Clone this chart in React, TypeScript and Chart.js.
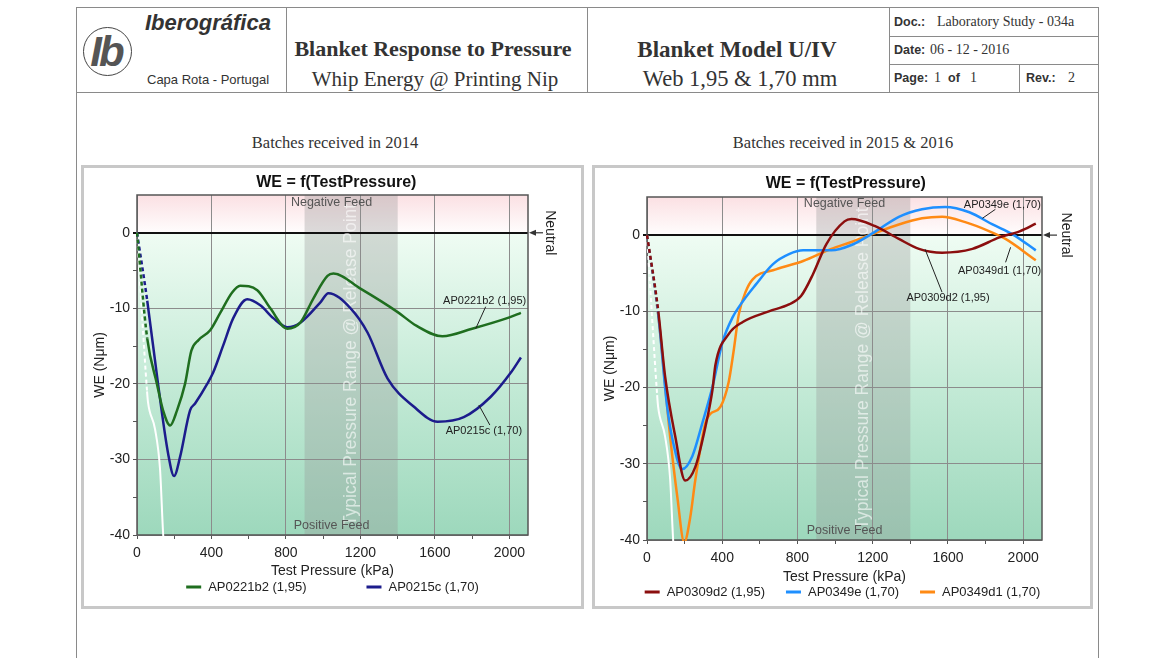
import React, { useEffect, useRef } from "react";
import { Chart, registerables } from "chart.js";

Chart.register(...registerables);

const SANS = "'Liberation Sans', Arial, sans-serif";
const SERIF = "'Liberation Serif', 'Times New Roman', serif";

// ---------------- Data: batches received in 2014 ----------------
const P_AP0221b2 = [0, 55, 107, 140, 178, 215, 258, 292, 330, 393, 447, 511, 554, 646, 716, 807, 877, 947, 1023, 1055, 1200, 1400, 1500, 1640, 1800, 2000, 2062];
const WE_AP0221b2 = [0, -14, -20, -23.5, -25.5, -23.5, -20, -15.6, -14.2, -12.9, -10.6, -7.9, -7.0, -7.6, -10, -12.7, -11.9, -8.7, -5.7, -5.4, -7.4, -10.5, -12.3, -13.7, -12.7, -11.2, -10.6];

const P_AP0215c = [0, 55, 113, 167, 199, 231, 285, 312, 377, 409, 463, 517, 592, 662, 732, 807, 877, 985, 1028, 1147, 1238, 1346, 1486, 1615, 1755, 1900, 2008, 2062];
const WE_AP0215c = [0, -9, -20, -29.2, -32.2, -29.7, -23.5, -22.6, -20, -18.5, -14.9, -11.3, -8.8, -9.6, -11.3, -12.5, -11.9, -9.2, -8.0, -10, -13.2, -19.3, -23, -25, -24.4, -21.7, -18.5, -16.5];

const P_REF_2014 = [0, 54, 59, 97, 124, 140, 150];
const WE_REF_2014 = [0, -21, -22.4, -26, -31.4, -39.7, -43];

// ---------------- Data: batches received in 2015 & 2016 ----------------
const P_AP0309d2 = [0, 60, 96, 150, 203, 257, 311, 348, 364, 434, 509, 648, 755, 819, 883, 953, 1050, 1087, 1210, 1339, 1446, 1569, 1730, 1874, 1981, 2067];
const WE_AP0309d2 = [0, -10, -18.5, -26.4, -32.2, -30.4, -25.1, -20.3, -17, -13, -11.4, -10, -9.1, -8, -5.1, -1.2, 1.8, 2.1, 1.2, -0.5, -1.8, -2.3, -1.8, -0.3, 0.5, 1.5];

const P_AP0349e = [0, 60, 107, 139, 187, 241, 295, 348, 402, 455, 509, 578, 670, 755, 830, 980, 1087, 1210, 1339, 1462, 1585, 1714, 1837, 1944, 2067];
const WE_AP0349e = [0, -10.5, -22.5, -27.2, -30.7, -29, -24.6, -19.9, -14, -10.8, -8.7, -6.5, -3.8, -2.5, -2, -2, -1.3, 0.4, 2.4, 3.4, 3.7, 3.0, 1.4, 0.1, -2];

const P_AP0349d1 = [0, 60, 123, 161, 198, 230, 257, 311, 335, 391, 434, 460, 488, 525, 562, 685, 830, 980, 1087, 1194, 1339, 1462, 1569, 1692, 1821, 1906, 2067];
const WE_AP0349d1 = [0, -10.5, -26.4, -34.3, -40.3, -37, -32.1, -24.6, -23.5, -22.5, -19.3, -15.3, -10.4, -7.4, -5.8, -4.5, -3.4, -1.8, -0.9, 0.1, 1.4, 2.2, 2.4, 1.7, 0.5, -0.5, -3.3];

const P_REF_2015 = [0, 54, 59, 96, 123, 139, 148];
const WE_REF_2015 = [0, -21, -22.5, -26.4, -32, -40, -43];

// ---------------- Axes ----------------
const X_LABEL_TICKS = [0, 400, 800, 1200, 1600, 2000];
const Y_LABEL_TICKS = [0, -10, -20, -30, -40];
const X_MIN = 0, X_MAX = 2100, Y_MIN = -40, Y_MAX = 5;
const PRESSURE_BAND = [900, 1400];

type Series = { label: string; xs: number[]; ys: number[]; color: string; width: number; legend: boolean; dotEnd: number };
type Ann = { ds: number; x: number; y: number; lx: number; ly: number; tx: number; ty: number };
type Spec = {
  w: number; h: number;
  padLeft: number; padBottom: number; yAxisW: number; rightW: number; xAxisH: number;
  titleTop: number; titleBottom: number;
  legendY: number; legendGap: number;
  feedX: number; feedTop: number; feedBottom: number;
  neutralOff: number;
  series: Series[];
  anns: Ann[];
};

const transparent = "rgba(0,0,0,0)";

const decorPlugin: any = {
  id: "decor",
  beforeDraw(chart: any) {
    const { ctx, chartArea: a, scales } = chart;
    const x = scales.x, y = scales.y;
    const y0 = y.getPixelForValue(0);
    ctx.save();
    let g = ctx.createLinearGradient(0, a.top, 0, y0);
    g.addColorStop(0, "#fbe0e3");
    g.addColorStop(1, "#fffdfd");
    ctx.fillStyle = g;
    ctx.fillRect(a.left, a.top, a.right - a.left, y0 - a.top);
    g = ctx.createLinearGradient(0, y0, 0, a.bottom);
    g.addColorStop(0, "#effcf3");
    g.addColorStop(0.5, "#c3ead6");
    g.addColorStop(1, "#9dd8bc");
    ctx.fillStyle = g;
    ctx.fillRect(a.left, y0, a.right - a.left, a.bottom - y0);
    const b1 = x.getPixelForValue(PRESSURE_BAND[0]);
    const b2 = x.getPixelForValue(PRESSURE_BAND[1]);
    ctx.fillStyle = "rgba(150,150,150,0.33)";
    ctx.fillRect(b1, a.top, b2 - b1, a.bottom - a.top);
    ctx.restore();
  },
  beforeDatasetsDraw(chart: any, _a: any, o: any) {
    const { ctx, chartArea: a, scales } = chart;
    const x = scales.x;
    ctx.save();
    ctx.beginPath();
    ctx.rect(a.left, a.top, a.right - a.left, a.bottom - a.top);
    ctx.clip();
    ctx.translate(x.getPixelForValue(1150), (a.top + a.bottom) / 2);
    ctx.rotate(-Math.PI / 2);
    ctx.font = `17.5px ${SANS}`;
    ctx.fillStyle = "rgba(255,255,255,0.6)";
    ctx.textAlign = "center";
    ctx.textBaseline = "middle";
    ctx.fillText("Typical Pressure Range @ Release Point", 0, 0);
    ctx.restore();

    ctx.save();
    ctx.font = `12.5px ${SANS}`;
    ctx.fillStyle = "#555";
    ctx.textAlign = "center";
    ctx.textBaseline = "middle";
    const fx = x.getPixelForValue(o.feedX);
    ctx.fillText("Negative Feed", fx, a.top + o.feedTop);
    ctx.fillText("Positive Feed", fx, a.bottom - o.feedBottom);
    ctx.strokeStyle = "#555";
    ctx.lineWidth = 1.5;
    ctx.strokeRect(a.left, a.top, a.right - a.left, a.bottom - a.top);
    ctx.restore();
  },
  afterDatasetsDraw(chart: any, _a: any, o: any) {
    const { ctx, scales } = chart;
    ctx.save();
    ctx.font = `11px ${SANS}`;
    ctx.fillStyle = "#222";
    ctx.strokeStyle = "#222";
    ctx.lineWidth = 1;
    ctx.textAlign = "center";
    ctx.textBaseline = "middle";
    (o.anns || []).forEach((an: Ann) => {
      const px = scales.x.getPixelForValue(an.x);
      const py = scales.y.getPixelForValue(an.y);
      ctx.beginPath();
      ctx.moveTo(px, py);
      ctx.lineTo(px + an.lx, py + an.ly);
      ctx.stroke();
      ctx.fillText(chart.data.datasets[an.ds].label, px + an.tx, py + an.ty);
    });
    ctx.restore();
  },
  afterDraw(chart: any, _a: any, o: any) {
    const { ctx, chartArea: a, scales } = chart;
    const y0 = scales.y.getPixelForValue(0);
    ctx.save();
    ctx.strokeStyle = "#333";
    ctx.fillStyle = "#333";
    ctx.lineWidth = 1.2;
    ctx.beginPath();
    ctx.moveTo(a.right + 15, y0);
    ctx.lineTo(a.right + 4, y0);
    ctx.stroke();
    ctx.beginPath();
    ctx.moveTo(a.right + 1, y0);
    ctx.lineTo(a.right + 8, y0 - 3);
    ctx.lineTo(a.right + 8, y0 + 3);
    ctx.closePath();
    ctx.fill();
    ctx.translate(a.right + o.neutralOff, y0);
    ctx.rotate(Math.PI / 2);
    ctx.font = `14px ${SANS}`;
    ctx.fillStyle = "#222";
    ctx.textAlign = "center";
    ctx.textBaseline = "middle";
    ctx.fillText("Neutral", 0, 0);
    ctx.restore();

    // Legend
    ctx.save();
    ctx.font = `13px ${SANS}`;
    const items = chart.data.datasets.filter((d: any) => !d.hideInLegend);
    const sw = 15, gap = 7;
    const widths = items.map((d: any) => sw + gap + ctx.measureText(d.label).width);
    const total = widths.reduce((s: number, v: number) => s + v, 0) + o.legendGap * (items.length - 1);
    let lx = chart.width / 2 - total / 2;
    ctx.textAlign = "left";
    ctx.textBaseline = "middle";
    items.forEach((d: any, i: number) => {
      ctx.fillStyle = d.borderColor;
      ctx.fillRect(lx, o.legendY - 1.5, sw, 3);
      ctx.fillStyle = "#222";
      ctx.fillText(d.label, lx + sw + gap, o.legendY);
      lx += widths[i] + o.legendGap;
    });
    ctx.restore();
  },
};

function buildConfig(spec: Spec): any {
  return {
    type: "line",
    data: {
      datasets: spec.series.map((s) => ({
        label: s.label,
        data: s.xs.map((x, i) => ({ x, y: s.ys[i] })),
        borderColor: s.color,
        backgroundColor: s.color,
        borderWidth: s.width,
        pointRadius: 0,
        pointHoverRadius: 0,
        fill: false,
        cubicInterpolationMode: "monotone",
        hideInLegend: !s.legend,
        clip: 1,
        segment: {
          borderDash: (c: any) => (c.p1.parsed.x <= s.dotEnd ? [4, 3] : undefined),
        },
      })),
    },
    options: {
      responsive: false,
      animation: false,
      events: [],
      layout: { padding: { left: spec.padLeft, right: 0, top: 0, bottom: spec.padBottom } },
      plugins: {
        legend: { display: false },
        tooltip: { enabled: false },
        title: {
          display: true,
          text: "WE = f(TestPressure)",
          color: "#111",
          font: { family: SANS, size: 16, weight: "bold" },
          padding: { top: spec.titleTop, bottom: spec.titleBottom },
        },
        decor: {
          feedX: spec.feedX, feedTop: spec.feedTop, feedBottom: spec.feedBottom,
          neutralOff: spec.neutralOff, legendY: spec.legendY, legendGap: spec.legendGap,
          anns: spec.anns,
        },
      },
      scales: {
        x: {
          type: "linear",
          min: X_MIN,
          max: X_MAX,
          afterFit: (s: any) => { s.height = spec.xAxisH; },
          border: { display: false },
          grid: {
            color: (c: any) => (c.tick && c.tick.value % 400 === 0 ? "#8c8c8c" : transparent),
            tickColor: (c: any) => (c.tick && c.tick.value % 200 === 0 ? "#555" : transparent),
            tickLength: 4,
            lineWidth: 1,
          },
          ticks: {
            stepSize: 200,
            includeBounds: false,
            autoSkip: false,
            maxRotation: 0,
            padding: 6,
            color: "#222",
            font: { family: SANS, size: 14 },
            callback: (v: any) => (X_LABEL_TICKS.includes(v) ? String(v) : ""),
          },
          title: {
            display: true,
            text: "Test Pressure (kPa)",
            color: "#222",
            font: { family: SANS, size: 14 },
            padding: 0,
          },
        },
        y: {
          type: "linear",
          min: Y_MIN,
          max: Y_MAX,
          afterFit: (s: any) => { s.width = spec.yAxisW; },
          border: { display: false },
          grid: {
            color: (c: any) => {
              const v = c.tick ? c.tick.value : NaN;
              if (v === 0) return "#111";
              return v % 10 === 0 ? "#8c8c8c" : transparent;
            },
            lineWidth: (c: any) => (c.tick && c.tick.value === 0 ? 2 : 1),
            tickColor: (c: any) => (c.tick && c.tick.value === Y_MAX ? transparent : c.tick && c.tick.value === 0 ? "#111" : "#555"),
            tickLength: 4,
          },
          ticks: {
            stepSize: 5,
            padding: 3,
            color: "#222",
            font: { family: SANS, size: 14 },
            callback: (v: any) => (Y_LABEL_TICKS.includes(v) ? String(v) : ""),
          },
          title: {
            display: true,
            text: "WE (Nμm)",
            color: "#222",
            font: { family: SANS, size: 14 },
            padding: 0,
          },
        },
        y2: {
          type: "linear",
          position: "right",
          min: 0,
          max: 1,
          afterFit: (s: any) => { s.width = spec.rightW; },
          border: { display: false },
          grid: { display: false, drawTicks: false },
          ticks: { display: false },
        },
      },
    },
    plugins: [decorPlugin],
  };
}

const LEFT_SPEC: Spec = {
  w: 497, h: 438,
  padLeft: 7.6, padBottom: 26.6, yAxisW: 45.4, rightW: 53, xAxisH: 44.4,
  titleTop: 5.4, titleBottom: 2.4,
  legendY: 419, legendGap: 60,
  feedX: 1045, feedTop: 8, feedBottom: 9,
  neutralOff: 22,
  series: [
    { label: "AP0221b2 (1,95)", xs: P_AP0221b2, ys: WE_AP0221b2, color: "#1f6e1f", width: 2.5, legend: true, dotEnd: 56 },
    { label: "AP0215c (1,70)", xs: P_AP0215c, ys: WE_AP0215c, color: "#1c1c8c", width: 2.5, legend: true, dotEnd: 56 },
    { label: "Reference", xs: P_REF_2014, ys: WE_REF_2014, color: "#ffffff", width: 2, legend: false, dotEnd: 55 },
  ],
  anns: [
    { ds: 0, x: 1819, y: -12.7, lx: 10, ly: -22, tx: 9, ty: -28 },
    { ds: 1, x: 1836, y: -22.8, lx: 11, ly: 20, tx: 5, ty: 26 },
  ],
};

const RIGHT_SPEC: Spec = {
  w: 495, h: 438,
  padLeft: 6.6, padBottom: 20.6, yAxisW: 45.4, rightW: 48, xAxisH: 45.4,
  titleTop: 6, titleBottom: 3.8,
  legendY: 424, legendGap: 21,
  feedX: 1050, feedTop: 7, feedBottom: 9,
  neutralOff: 24,
  series: [
    { label: "AP0309d2 (1,95)", xs: P_AP0309d2, ys: WE_AP0309d2, color: "#8b0e0e", width: 2.5, legend: true, dotEnd: 61 },
    { label: "AP0349e (1,70)", xs: P_AP0349e, ys: WE_AP0349e, color: "#1e8fff", width: 2.5, legend: true, dotEnd: 61 },
    { label: "AP0349d1 (1,70)", xs: P_AP0349d1, ys: WE_AP0349d1, color: "#ff8a14", width: 2.5, legend: true, dotEnd: 61 },
    { label: "Reference", xs: P_REF_2015, ys: WE_REF_2015, color: "#ffffff", width: 2, legend: false, dotEnd: 55 },
  ],
  anns: [
    { ds: 1, x: 1783, y: 2.2, lx: 13, ly: -9, tx: 20, ty: -13 },
    { ds: 2, x: 1933, y: -1.6, lx: -5, ly: 15, tx: -11, ty: 24 },
    { ds: 0, x: 1478, y: -1.84, lx: 17, ly: 43, tx: 23, ty: 49 },
  ],
};

function WEChart({ spec }: { spec: Spec }) {
  const ref = useRef<HTMLCanvasElement>(null);
  useEffect(() => {
    const chart = new Chart(ref.current as HTMLCanvasElement, buildConfig(spec));
    return () => chart.destroy();
  }, [spec]);
  return <canvas ref={ref} width={spec.w} height={spec.h} style={{ display: "block", width: spec.w, height: spec.h }} />;
}

function T({ x, y, a = "c", s, children }: { x: number; y: number; a?: string; s?: any; children: any }) {
  return (
    <div
      style={{
        position: "absolute",
        left: x,
        top: y,
        transform: a === "c" ? "translate(-50%,-50%)" : "translateY(-50%)",
        whiteSpace: "nowrap",
        lineHeight: 1,
        color: "#333",
        ...s,
      }}
    >
      {children}
    </div>
  );
}

function L({ x, y, w, h }: { x: number; y: number; w: number; h: number }) {
  return <div style={{ position: "absolute", left: x, top: y, width: w, height: h, background: "#8a8a8a" }} />;
}

export default function App() {
  const bold = { fontFamily: SANS, fontWeight: "bold", fontSize: 12.5 };
  const ser = { fontFamily: SERIF, fontSize: 14 };
  return (
    <div style={{ position: "absolute", left: 0, top: 0, width: 1170, height: 658, background: "#fff", overflow: "hidden" }}>
      {/* frame */}
      <L x={76} y={7} w={1023} h={1} />
      <L x={76} y={7} w={1} h={651} />
      <L x={1098} y={7} w={1} h={651} />
      <L x={76} y={92} w={1023} h={1} />
      <L x={286} y={7} w={1} h={86} />
      <L x={587} y={7} w={1} h={86} />
      <L x={889} y={7} w={1} h={86} />
      <L x={889} y={36} w={210} h={1} />
      <L x={889} y={64} w={210} h={1} />
      <L x={1019} y={64} w={1} h={29} />

      {/* logo */}
      <div style={{ position: "absolute", left: 83, top: 27, width: 47, height: 47, border: "1.5px solid #444", borderRadius: "50%" }} />
      <T x={106} y={52} s={{ fontFamily: SANS, fontStyle: "italic", fontWeight: "bold", fontSize: 42, color: "#555", letterSpacing: -3 }}>Ib</T>
      <T x={145} y={23} a="l" s={{ fontFamily: SANS, fontStyle: "italic", fontWeight: "bold", fontSize: 22, color: "#333" }}>Iberográfica</T>
      <T x={147} y={79} a="l" s={{ fontFamily: SANS, fontSize: 13, color: "#333" }}>Capa Rota - Portugal</T>

      {/* titles */}
      <T x={433} y={49} s={{ fontFamily: SERIF, fontWeight: "bold", fontSize: 22 }}>Blanket Response to Pressure</T>
      <T x={435} y={79} s={{ fontFamily: SERIF, fontSize: 21 }}>Whip Energy @ Printing Nip</T>
      <T x={737} y={49} s={{ fontFamily: SERIF, fontWeight: "bold", fontSize: 23 }}>Blanket Model U/IV</T>
      <T x={740} y={79} s={{ fontFamily: SERIF, fontSize: 22.5 }}>Web 1,95 &amp; 1,70 mm</T>

      {/* doc cells */}
      <T x={894} y={22} a="l" s={bold}>Doc.:</T>
      <T x={937} y={22} a="l" s={ser}>Laboratory Study - 034a</T>
      <T x={894} y={50} a="l" s={bold}>Date:</T>
      <T x={930} y={50} a="l" s={ser}>06 - 12 - 2016</T>
      <T x={894} y={78} a="l" s={bold}>Page:</T>
      <T x={934} y={78} a="l" s={ser}>1</T>
      <T x={948} y={78} a="l" s={bold}>of</T>
      <T x={970} y={78} a="l" s={ser}>1</T>
      <T x={1026} y={78} a="l" s={bold}>Rev.:</T>
      <T x={1068} y={78} a="l" s={ser}>2</T>

      {/* captions */}
      <T x={335} y={143} s={{ fontFamily: SERIF, fontSize: 16.5 }}>Batches received in 2014</T>
      <T x={843} y={143} s={{ fontFamily: SERIF, fontSize: 16.5 }}>Batches received in 2015 &amp; 2016</T>

      {/* panels */}
      <div style={{ position: "absolute", left: 81, top: 165, border: "3px solid #c8c8c8", background: "#fff" }}>
        <WEChart spec={LEFT_SPEC} />
      </div>
      <div style={{ position: "absolute", left: 592, top: 165, border: "3px solid #c8c8c8", background: "#fff" }}>
        <WEChart spec={RIGHT_SPEC} />
      </div>
    </div>
  );
}
